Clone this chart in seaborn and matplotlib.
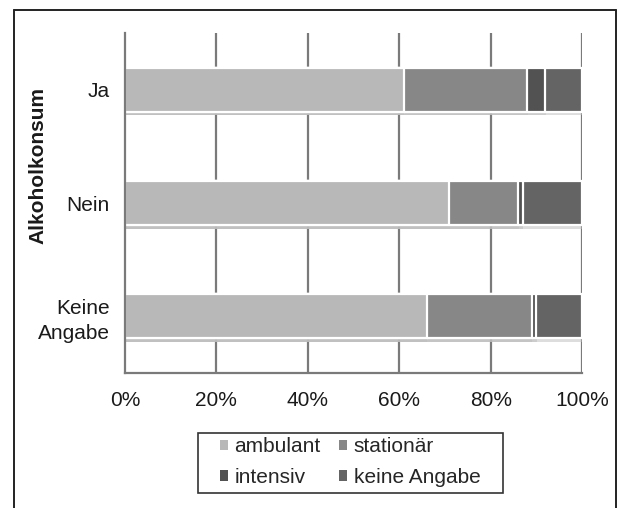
#!/usr/bin/env python3
import matplotlib
matplotlib.use("Agg")
import matplotlib.pyplot as plt
import matplotlib.patheffects as pe
from matplotlib.lines import Line2D
from matplotlib.patches import Patch, Rectangle
import pandas as pd
import seaborn as sns

categories = ["Ja", "Nein", "Keine\nAngabe"]
series = ["ambulant", "stationär", "intensiv", "keine Angabe"]
ambulant = [61, 71, 66]
stationaer = [27, 15, 23]
intensiv = [4, 1, 1]
keine_angabe = [8, 13, 10]
colors = ["#b8b8b8", "#878787", "#525252", "#646464"]
x_ticks = [0, 20, 40, 60, 80, 100]

sns.set_theme(style="white")
plt.rcParams["font.family"] = ["Liberation Sans", "DejaVu Sans"]

df = pd.DataFrame(
    {"cat": categories, "ambulant": ambulant, "stationär": stationaer,
     "intensiv": intensiv, "keine Angabe": keine_angabe}
)
cum = df[series].cumsum(axis=1)

W, H = 618, 508
fig = plt.figure(figsize=(W / 100, H / 100), dpi=100)
ax = fig.add_axes([0.2023, 0.2657, 0.7395, 0.6693])

for x in x_ticks[1:]:
    ax.axvline(x, color="#7a7a7a", lw=1.6, zorder=0)

shadow = [pe.SimplePatchShadow(offset=(0.5, -2.5), shadow_rgbFace="#bdbdbd", alpha=0.5), pe.Normal()]
# draw from the total backwards so each shorter bar covers the start
for name, col in reversed(list(zip(series, colors))):
    sns.barplot(x=cum[name], y=df["cat"], color=col, orient="h", width=0.39,
                edgecolor="white", linewidth=1.6, saturation=1, ax=ax, zorder=2)
for p in ax.patches:
    p.set_path_effects(shadow)

ax.set_xlim(0, 100)
ax.set_ylim(2.5, -0.5)
ax.set_xticks(x_ticks)
ax.set_xticklabels([f"{v}%" for v in x_ticks], fontsize=15)
ax.tick_params(axis="x", length=0, pad=13, colors="#1a1a1a")
ax.tick_params(axis="y", which="major", length=0, pad=11, labelsize=15, colors="#1a1a1a")
ax.set_yticks([-0.5, 0.5, 1.5, 2.5], minor=True)
ax.tick_params(axis="y", which="minor", length=4, width=1.3, color="#7a7a7a", direction="out")
for t in ax.get_yticklabels():
    t.set_horizontalalignment("right")
    t.set_multialignment("right")
    t.set_linespacing(1.4)
ax.set_xlabel("")
ax.set_ylabel("Alkoholkonsum", fontsize=15, fontweight="bold", color="#1a1a1a")
ax.yaxis.set_label_coords(-0.19, 0.61)
ax.yaxis.label.set_verticalalignment("center")

for s in ["top", "right"]:
    ax.spines[s].set_visible(False)
for s in ["left", "bottom"]:
    ax.spines[s].set_color("#7a7a7a")
    ax.spines[s].set_linewidth(1.6)

handles = [Patch(facecolor=colors[i], edgecolor="none", label=series[i]) for i in [0, 2, 1, 3]]
fig.legend(handles=handles, ncol=2, loc="center", bbox_to_anchor=(350 / W, 1 - 462 / H),
           fontsize=15, frameon=False, handlelength=0.4, handleheight=0.4,
           handletextpad=0.3, columnspacing=0.9, labelspacing=0.55, borderpad=0)
# legend box drawn separately: it has wide side padding
fig.add_artist(Rectangle((198 / W, 1 - 493 / H), 305 / W, 60 / H, transform=fig.transFigure,
                         facecolor="none", edgecolor="#333333", lw=1.2))

# outer frame of the figure
frame_kw = dict(color="#222222", lw=1.4, transform=fig.transFigure)
fig.add_artist(Line2D([14 / W, 14 / W], [0, 1 - 10 / H], **frame_kw))
fig.add_artist(Line2D([14 / W, 616 / W], [1 - 10 / H, 1 - 10 / H], **frame_kw))
fig.add_artist(Line2D([616 / W, 616 / W], [0, 1 - 10 / H], **frame_kw))

fig.savefig("out.png", dpi=100)
